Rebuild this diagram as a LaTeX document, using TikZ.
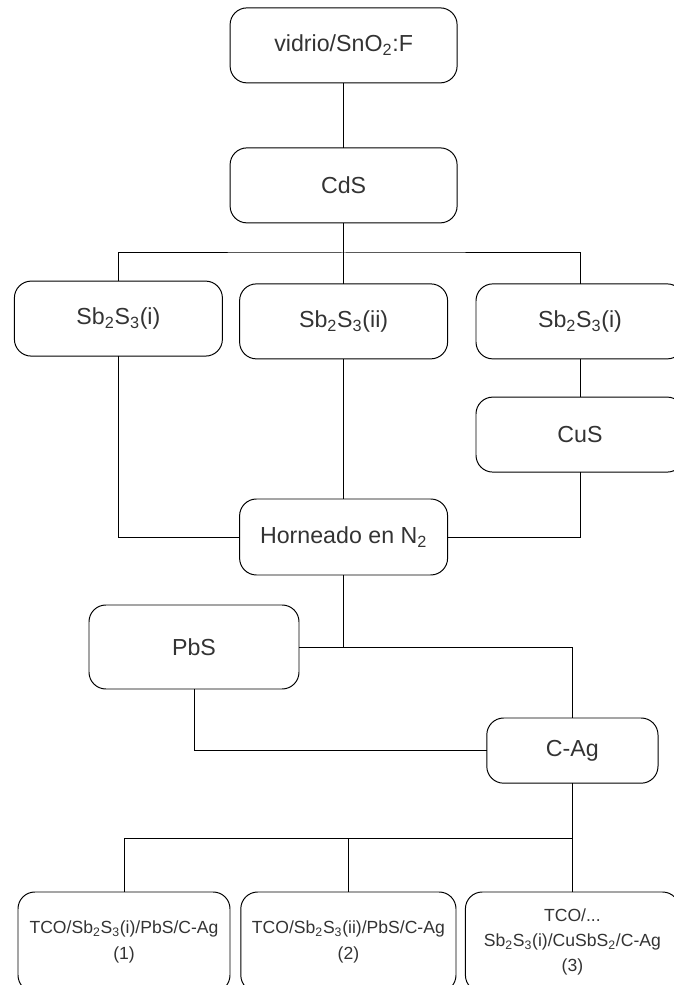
\documentclass[tikz,border=0pt]{standalone}
\usepackage{fontspec}
\setmainfont{Liberation Sans}
\usetikzlibrary{positioning}

\begin{document}
\begin{tikzpicture}[line width=0.7pt,
  box/.style={draw, rounded corners=12pt, minimum width=5.2cm, minimum height=1.875cm,
    inner sep=2pt, outer sep=0pt, align=center, text=black!80,
    font=\fontsize{16.5}{20}\selectfont},
  result/.style={box, minimum height=2.5cm, font=\fontsize{12.5}{18}\selectfont}]
  \useasboundingbox (0,0) rectangle (16.825,24.625);
  \node (glass) at (8.59,23.49) [box, minimum width=5.675cm] {vidrio/SnO\textsubscript{2}:F};
  \node (cds) at (8.59,19.99) [box, minimum width=5.675cm] {CdS};
  \node (sbA) at (2.96,16.66) [box] {Sb\textsubscript{2}S\textsubscript{3}(i)};
  \node (sbB) at (8.59,16.59) [box] {Sb\textsubscript{2}S\textsubscript{3}(ii)};
  \node (sbC) at (14.5,16.59) [box] {Sb\textsubscript{2}S\textsubscript{3}(i)};
  \node (cus) at (14.5,13.76) [box] {CuS};
  \node (bake) at (8.59,11.2) [box, minimum height=1.9cm] {Horneado en N\textsubscript{2}};
  \node (pbs) at (4.85,8.45) [box, minimum width=5.25cm, minimum height=2.1cm] {PbS};
  \node (cag) at (14.31,5.86) [box, minimum width=4.28cm, minimum height=1.63cm] {C-Ag};
  \node (out1) at (3.1,1.075) [result, minimum width=5.3cm] {TCO/Sb\textsubscript{2}S\textsubscript{3}(i)/PbS/C-Ag\\(1)};
  \node (out2) at (8.71,1.075) [result, minimum width=5.38cm] {TCO/Sb\textsubscript{2}S\textsubscript{3}(ii)/PbS/C-Ag\\(2)};
  \node (out3) at (14.31,1.075) [result, minimum width=5.35cm] {TCO/...\\Sb\textsubscript{2}S\textsubscript{3}(i)/CuSbS\textsubscript{2}/C-Ag\\(3)};
  % upper branches
  \coordinate (split1) at (8.59,18.3);
  \draw (glass) -- (cds);
  \draw (cds.south) -- (split1);
  \draw (sbA.north) |- (split1) -| (sbC.north);
  \draw (split1) -- (sbB.north);
  \draw (sbC) -- (cus);
  \draw (sbB) -- (bake);
  \draw (sbA.south) |- (bake.west);
  \draw (cus.south) |- (bake.east);
  % lower branches
  \draw (pbs.east) -| (cag.north);
  \draw (bake.south) -- (bake.south |- pbs.east);
  \draw (pbs.south) |- (cag.west);
  \coordinate (split3) at (14.31,3.675);
  \draw (cag.south) -- (out3.north);
  \draw (out1.north) |- (split3);
  \draw (out2.north) -- (out2.north |- split3);
\end{tikzpicture}
\end{document}
